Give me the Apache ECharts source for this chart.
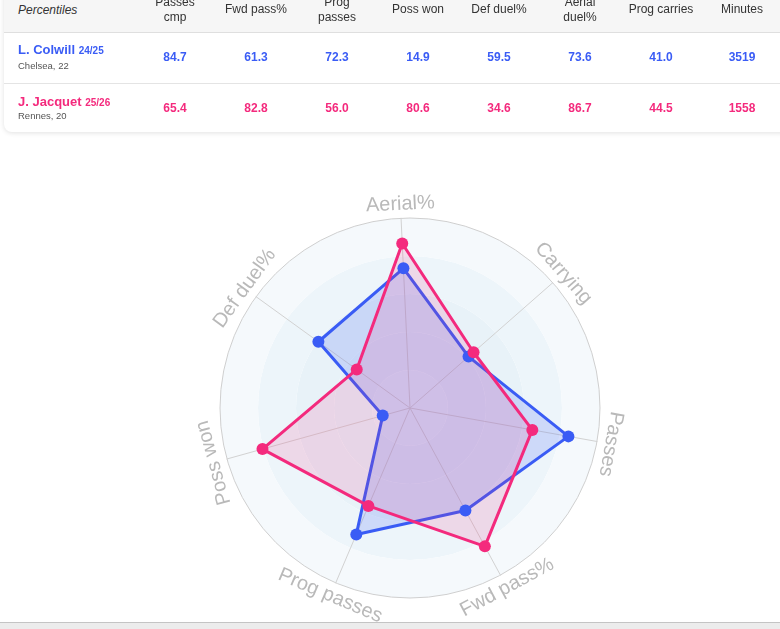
<!DOCTYPE html>
<html>
<head>
<meta charset="utf-8">
<script src="https://cdn.jsdelivr.net/npm/echarts/dist/echarts.min.js"></script>
<style>
html, body { margin: 0; padding: 0; width: 780px; height: 629px; overflow: hidden; background: #fff; font-family: 'Liberation Sans', Arial, sans-serif; }
#chart { position: absolute; left: 0; top: 0; width: 780px; height: 629px; }
.card { position: absolute; left: 4px; top: -20px; width: 800px; height: 152px; background: #fff; border-radius: 8px; box-shadow: 0 1px 5px rgba(0,0,0,0.12); }
.head { position: absolute; left: 4px; top: 0; width: 800px; height: 32px; background: #f6f6f6; border-bottom: 1px solid #dfdfdf; }
.divider { position: absolute; left: 4px; top: 83px; width: 800px; height: 1px; background: #e4e4e4; }
.cell { position: absolute; text-align: center; width: 80px; white-space: nowrap; }
.th { font-size: 12px; line-height: 14.5px; color: #333; }
.td { font-size: 12px; font-weight: bold; }
.name { position: absolute; left: 18px; font-size: 13px; font-weight: bold; white-space: nowrap; }
.name small { font-size: 10px; }
.club { position: absolute; left: 18px; font-size: 9.5px; color: #555; }
.footer { position: absolute; left: 0; top: 622px; width: 780px; height: 7px; background: #ececec; border-top: 1px solid #c4c4c4; }
</style>
</head>
<body>
<div id="chart"></div>
<div class="card"></div>
<div class="head"></div>
<div class="divider"></div>
<div id="table"></div>
<div class="footer"></div>
<script>
// table
const columns = ['Passes<br>cmp', 'Fwd pass%', 'Prog<br>passes', 'Poss won', 'Def duel%', 'Aerial<br>duel%', 'Prog carries', 'Minutes']
const colwillRow = ['84.7', '61.3', '72.3', '14.9', '59.5', '73.6', '41.0', '3519']
const jacquetRow = ['65.4', '82.8', '56.0', '80.6', '34.6', '86.7', '44.5', '1558']

// radar (counter-clockwise from the top axis)
const indicators = ['Aerial%', 'Def duel%', 'Poss won', 'Prog passes', 'Fwd pass%', 'Passes', 'Carrying']
const colwill = [73.6, 59.5, 14.9, 72.3, 61.3, 84.7, 41.0]
const jacquet = [86.7, 34.6, 80.6, 56.0, 82.8, 65.4, 44.5]

const blue = '#3a5cf5'
const pink = '#f42a7d'

let html = '<div class="cell th" style="left:18px;top:2.5px;text-align:left;font-style:italic">Percentiles</div>'
columns.forEach((c, i) => {
  const x = 175 + 81 * i - 40
  const lines = c.split('<br>').length
  html += `<div class="cell th" style="left:${x}px;top:${9.5 - lines * 7.25}px">${c}</div>`
  html += `<div class="cell td" style="left:${x}px;top:50px;color:${blue}">${colwillRow[i]}</div>`
  html += `<div class="cell td" style="left:${x}px;top:100.5px;color:${pink}">${jacquetRow[i]}</div>`
})
html += `<div class="name" style="top:42px;color:${blue}">L. Colwill <small>24/25</small></div>`
html += '<div class="club" style="top:60px">Chelsea, 22</div>'
html += `<div class="name" style="top:93.5px;color:${pink}">J. Jacquet <small>25/26</small></div>`
html += '<div class="club" style="top:110px">Rennes, 20</div>'
document.getElementById('table').innerHTML = html

const myChart = echarts.init(document.getElementById('chart'))
const cx = 410
const cy = 408
const startAngle = 92.7
const labelR = 204

const labels = indicators.map((name, i) => {
  const a = startAngle + i * 360 / indicators.length
  const rad = a * Math.PI / 180
  let rot = ((a - 90) % 360 + 540) % 360 - 180
  if (Math.abs(rot) > 135) rot += rot > 0 ? -180 : 180
  return {
    type: 'text',
    x: cx + labelR * Math.cos(rad),
    y: cy - labelR * Math.sin(rad),
    rotation: rot * Math.PI / 180,
    silent: true,
    style: {
      text: name,
      fill: '#b9b9b9',
      font: '20px "Liberation Sans", Arial, sans-serif',
      align: 'center',
      verticalAlign: 'middle',
      textAlign: 'center',
      textVerticalAlign: 'middle'
    }
  }
})

const option = {
  animation: false,
  radar: {
    center: [cx, cy],
    radius: 190,
    startAngle: startAngle,
    shape: 'circle',
    splitNumber: 5,
    indicator: indicators.map(n => ({ name: n, min: 0, max: 100 })),
    axisName: { show: false },
    axisLine: { lineStyle: { color: '#d2d2d2', width: 1 } },
    splitLine: {
      lineStyle: {
        color: ['transparent', 'transparent', 'transparent', 'transparent', 'transparent', '#cfcfcf'],
        width: 1
      }
    },
    splitArea: {
      areaStyle: {
        color: ['#eaf3f9', '#e6f1f8', '#e8f2f8', '#edf5fa', '#f5f9fc']
      }
    }
  },
  graphic: labels,
  series: [
    {
      type: 'radar',
      symbol: 'circle',
      symbolSize: 12,
      data: [{
        name: 'L. Colwill',
        value: colwill,
        lineStyle: { color: blue, width: 3 },
        itemStyle: { color: blue },
        areaStyle: { color: 'rgba(58,92,245,0.25)' }
      }]
    },
    {
      type: 'radar',
      symbol: 'circle',
      symbolSize: 12,
      data: [{
        name: 'J. Jacquet',
        value: jacquet,
        lineStyle: { color: pink, width: 3 },
        itemStyle: { color: pink },
        areaStyle: { color: 'rgba(244,42,125,0.2)' }
      }]
    }
  ]
}

myChart.setOption(option)
</script>
</body>
</html>
